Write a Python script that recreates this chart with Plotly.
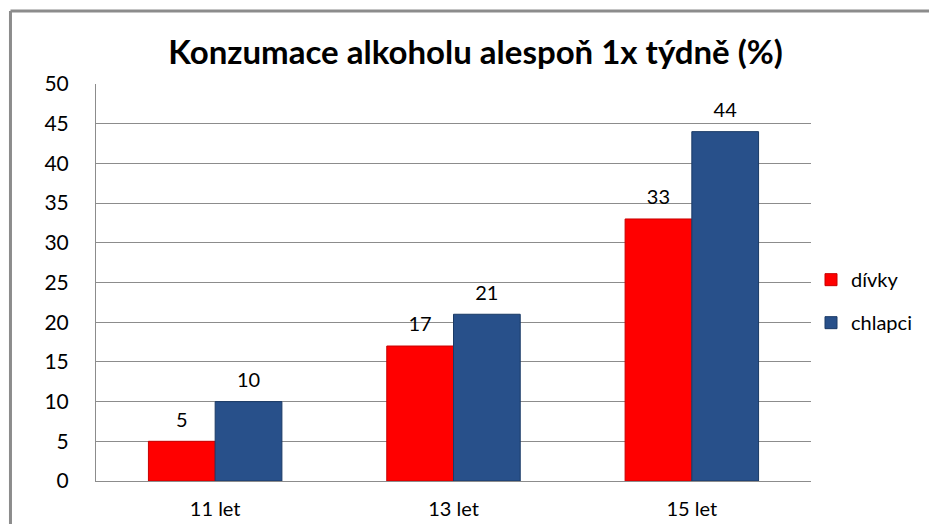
import plotly.graph_objects as go

categories = ["11 let", "13 let", "15 let"]
divky = [5, 17, 33]
chlapci = [10, 21, 44]
series_names = ["dívky", "chlapci"]
title_text = "Konzumace alkoholu alespoň 1x týdně (%)"
y_ticks = [0, 5, 10, 15, 20, 25, 30, 35, 40, 45, 50]

FONT = "Lato"
COLORS = ["#FF0000", "#28508A"]
EDGES = ["#C80000", "#1A3A66"]

fig = go.Figure()
for name, vals, col, edge in zip(series_names, [divky, chlapci], COLORS, EDGES):
    fig.add_trace(go.Bar(
        x=categories, y=vals, name=name,
        marker=dict(color=col, line=dict(color=edge, width=1)),
        legendgroup=name,
    ))
for name, vals in zip(series_names, [divky, chlapci]):
    fig.add_trace(go.Scatter(
        x=categories, y=vals, mode="markers+text",
        text=[str(v) for v in vals], textposition="top center",
        textfont=dict(size=20, color="#000000", family=FONT),
        marker=dict(size=14, opacity=0), showlegend=False,
        hoverinfo="skip", cliponaxis=False,
    ))

fig.update_layout(
    width=929, height=524,
    margin=dict(l=96, r=114, t=84, b=43),
    paper_bgcolor="white", plot_bgcolor="white",
    font=dict(family=FONT, size=20, color="#000000"),
    title=dict(text="<b>" + title_text + "</b>", x=0.512, xanchor="center",
               y=0.9, yanchor="middle", yref="container",
               font=dict(family=FONT, size=33, color="#000000")),
    barmode="group", bargap=0.44, bargroupgap=0,
    scattermode="group", scattergap=0.44,
    showlegend=True,
    legend=dict(x=1.0, y=0.453, xanchor="left", yanchor="middle",
                font=dict(size=20, family=FONT), tracegroupgap=14,
                bgcolor="rgba(0,0,0,0)"),
    modebar=dict(bgcolor="rgba(0,0,0,0)", color="rgba(0,0,0,0)",
                 activecolor="rgba(0,0,0,0)"),
)
fig.update_yaxes(range=[0, 50], tickvals=y_ticks, showgrid=True,
                 gridcolor="#8C8C8C", gridwidth=1, showline=True,
                 linecolor="#8C8C8C", linewidth=1, zeroline=False,
                 ticks="", ticklabelstandoff=22, automargin=False,
                 tickfont=dict(size=21, family=FONT))
fig.update_xaxes(showline=True, linecolor="#8C8C8C", linewidth=1,
                 ticks="", ticklabelstandoff=10, automargin=False,
                 tickfont=dict(size=20, family=FONT))

# chart border (left and top edges; the rest lies outside the view)
bx0 = (10 - 96) / 719
bx1 = (1000 - 96) / 719
by0 = -(600 - 481) / 397
by1 = 1 + (84 - 11) / 397
for (xa, ya, xb, yb) in [(bx0, by0, bx0, by1), (bx0, by1, bx1, by1)]:
    fig.add_shape(type="line", xref="paper", yref="paper",
                  x0=xa, y0=ya, x1=xb, y1=yb,
                  line=dict(color="#8C8C8C", width=3), layer="below")

fig.write_html(
    "out.html",
    config={"displaylogo": False},
    post_script=("document.documentElement.style.overflow='hidden';"
                 "document.body.style.margin='0';"
                 "document.body.style.overflow='hidden';"),
)
